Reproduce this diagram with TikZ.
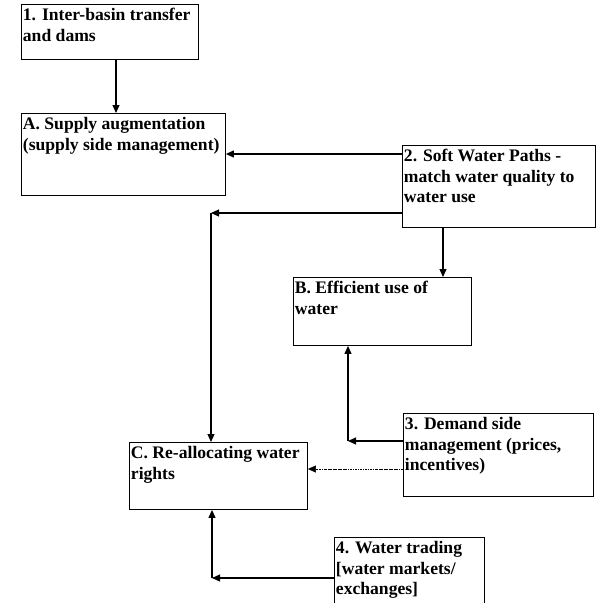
\documentclass[tikz,border=0pt]{standalone}
\usepackage{fontspec}
\setmainfont{Liberation Serif}
\usetikzlibrary{arrows.meta}
\newcommand\boxtxt[3]{\parbox[c][#2][t]{#1}{\raggedright\leftskip=1.5pt\rule{0pt}{16.5pt}#3}}
\begin{document}
\begin{tikzpicture}[x=1pt,y=-1pt,
  box/.style={draw, line width=0.9pt, anchor=north west, inner sep=0pt,
    font=\fontsize{17.6}{20.5}\selectfont\bfseries},
  arr/.style={line width=1.1pt, -{Triangle[length=8pt,width=7pt]}},
  dasharr/.style={line width=0.5pt, dash pattern=on 2.5pt off 1pt on 0.6pt off 1pt, -{Triangle[length=8pt,width=7pt]}}]
\useasboundingbox (0,0) rectangle (596,603);
\node[box] (b1) at (21,4) {\boxtxt{177pt}{55pt}{1. Inter-basin transfer\\and dams}};
\node[box] (bA) at (21,113) {\boxtxt{204pt}{82pt}{A. Supply augmentation\\(supply side management)}};
\node[box] (b2) at (402,145) {\boxtxt{193pt}{82pt}{2. Soft Water Paths -\\match water quality to\\water use}};
\node[box] (bB) at (293,277) {\boxtxt{178pt}{68pt}{B. Efficient use of\\water}};
\node[box] (b3) at (403,413) {\boxtxt{190pt}{83pt}{3. Demand side\\management (prices,\\incentives)}};
\node[box] (bC) at (129,442) {\boxtxt{178pt}{67pt}{C. Re-allocating water\\rights}};
\node[box] (b4) at (334,537) {\boxtxt{150pt}{72pt}{4. Water trading\\{[}water markets/\\exchanges{]}}};
\coordinate (x1) at (116,0);
\coordinate (yA) at (0,154);
\coordinate (xB) at (443,0);
\coordinate (yC) at (0,469);
\coordinate (k1) at (211,213);
\coordinate (k2) at (348,441);
\coordinate (k3) at (212,578);
\draw[arr] (b1.south -| x1) -- (bA.north -| x1);
\draw[arr] (b2.west |- yA) -- (bA.east |- yA);
\draw[arr] (b2.west |- k1) -- (k1);
\draw[arr] (k1) -- (bC.north -| k1);
\draw[arr] (b2.south -| xB) -- (bB.north -| xB);
\draw[arr] (b3.west |- k2) -- (k2);
\draw[arr] (k2) -- (bB.south -| k2);
\draw[dasharr] (b3.west |- yC) -- (bC.east |- yC);
\draw[arr] (b4.west |- k3) -- (k3);
\draw[arr] (k3) -- (bC.south -| k3);
\end{tikzpicture}
\end{document}
